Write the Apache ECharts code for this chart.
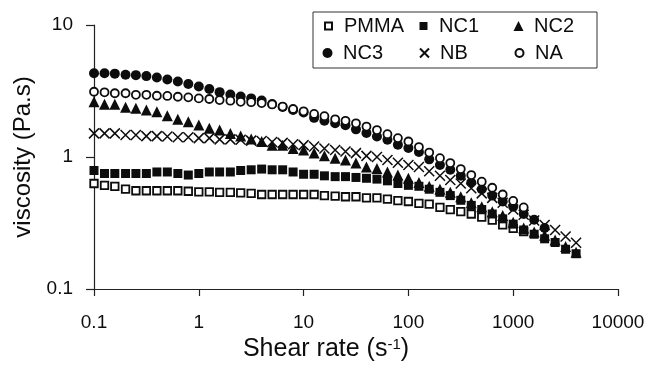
<!DOCTYPE html>
<html>
<head>
<meta charset="utf-8">
<script src="https://cdn.jsdelivr.net/npm/echarts@6/dist/echarts.min.js"></script>
<style>
  html, body {margin: 0; padding: 0; background: #fff;}
  #main {width: 652px; height: 368px;}
</style>
</head>
<body>
<div id="main"></div>
<script>
// shear rate (1/s), 10 points per decade
const shearRate = [
  0.1, 0.126, 0.158, 0.2, 0.251, 0.316, 0.398, 0.501, 0.631, 0.794,
  1, 1.26, 1.58, 2, 2.51, 3.16, 3.98, 5.01, 6.31, 7.94,
  10, 12.6, 15.8, 20, 25.1, 31.6, 39.8, 50.1, 63.1, 79.4,
  100, 126, 158, 200, 251, 316, 398, 501, 631, 794,
  1000, 1259, 1585, 1995, 2512, 3162, 3981
];

// viscosity (Pa.s)
const pmma = [
  0.63, 0.61, 0.60, 0.57, 0.555, 0.555, 0.555, 0.555, 0.555, 0.55,
  0.545, 0.545, 0.54, 0.54, 0.535, 0.53, 0.52, 0.52, 0.52, 0.52,
  0.52, 0.52, 0.51, 0.505, 0.50, 0.50, 0.49, 0.49, 0.48, 0.467,
  0.46, 0.446, 0.44, 0.416, 0.40, 0.386, 0.37, 0.35, 0.333, 0.306,
  0.288, 0.272
];
const nc1 = [
  0.79, 0.75, 0.75, 0.75, 0.75, 0.75, 0.77, 0.77, 0.75, 0.73,
  0.75, 0.77, 0.77, 0.77, 0.79, 0.80, 0.81, 0.80, 0.80, 0.77,
  0.74, 0.74, 0.72, 0.71, 0.71, 0.70, 0.69, 0.68, 0.66, 0.63,
  0.61, 0.60, 0.57, 0.54, 0.51, 0.47, 0.43, 0.40, 0.37, 0.34,
  0.31, 0.28, 0.26, 0.24, 0.225, 0.20, 0.185
];
const nc2 = [
  2.62, 2.51, 2.51, 2.38, 2.34, 2.27, 2.20, 2.05, 1.93, 1.85,
  1.75, 1.65, 1.60, 1.51, 1.44, 1.37, 1.31, 1.23, 1.23, 1.16,
  1.13, 1.07, 1.02, 0.98, 0.95, 0.90, 0.84, 0.82, 0.77, 0.73,
  0.69, 0.64, 0.60, 0.57, 0.54, 0.50, 0.45, 0.42, 0.385, 0.36,
  0.32, 0.29, 0.27, 0.255, 0.235, 0.21, 0.19
];
const nc3 = [
  4.31, 4.31, 4.28, 4.20, 4.17, 4.10, 4.00, 3.87, 3.73, 3.57,
  3.42, 3.27, 3.10, 2.97, 2.87, 2.78, 2.68, 2.52, 2.39, 2.27,
  2.17, 1.98, 1.88, 1.80, 1.74, 1.62, 1.52, 1.43, 1.35, 1.24,
  1.17, 1.09, 0.96, 0.87, 0.80, 0.72, 0.64, 0.57, 0.51, 0.46,
  0.42, 0.37, 0.335, 0.29
];
const nb = [
  1.51, 1.51, 1.51, 1.47, 1.47, 1.44, 1.44, 1.43, 1.41, 1.41,
  1.39, 1.39, 1.36, 1.36, 1.35, 1.33, 1.32, 1.30, 1.28, 1.25,
  1.23, 1.20, 1.16, 1.13, 1.10, 1.07, 1.02, 1.00, 0.95, 0.905,
  0.87, 0.84, 0.78, 0.72, 0.67, 0.63, 0.58, 0.53, 0.49, 0.45,
  0.40, 0.365, 0.33, 0.305, 0.28, 0.25, 0.224
];
const na = [
  3.12, 3.09, 3.04, 3.04, 2.96, 2.96, 2.91, 2.90, 2.86, 2.83,
  2.78, 2.75, 2.70, 2.67, 2.62, 2.60, 2.56, 2.50, 2.41, 2.31,
  2.22, 2.12, 2.04, 1.93, 1.88, 1.80, 1.70, 1.60, 1.49, 1.39,
  1.31, 1.19, 1.08, 0.98, 0.90, 0.81, 0.73, 0.65, 0.585, 0.52,
  0.465, 0.415
];

const xTicks = [0.1, 1, 10, 100, 1000, 10000];
const xTickLabels = ['0.1', '1', '10', '100', '1000', '10000'];
const yTicks = [0.1, 1, 10];
const yTickLabels = ['0.1', '1', '10'];

const ink = '#0d0d0d';
const font = 'Liberation Sans, Arial, sans-serif';
const crossPath = 'path://M0,0L10,10M10,0L0,10';

const pick = (ticks, labels) => v => {
  let best = 0;
  ticks.forEach((t, i) => {
    if (Math.abs(Math.log10(t) - Math.log10(v)) < Math.abs(Math.log10(ticks[best]) - Math.log10(v))) best = i;
  });
  return labels[best];
};

const pairs = values => values.map((v, i) => [shearRate[i], v]);

const seriesList = [
  {name: 'PMMA', values: pmma, symbol: 'rect', size: 7.5, legendSize: 7, style: {color: '#fff', borderColor: ink, borderWidth: 1.8}},
  {name: 'NC1', values: nc1, symbol: 'rect', size: 9, legendSize: 8, style: {color: ink}},
  {name: 'NC2', values: nc2, symbol: 'triangle', size: 11, legendSize: 10, style: {color: ink}},
  {name: 'NC3', values: nc3, symbol: 'circle', size: 10, legendSize: 10, style: {color: ink}},
  {name: 'NB', values: nb, symbol: crossPath, size: 10, legendSize: 9, style: {color: 'transparent', borderColor: ink, borderWidth: 1.5}},
  {name: 'NA', values: na, symbol: 'circle', size: 8, legendSize: 8, style: {color: '#fff', borderColor: ink, borderWidth: 1.8}}
];

// legend slots: column x of the icon's left edge, row y of the item top
const legendCols = [323, 419, 514];
const legendRows = [16, 43];

const chart = echarts.init(document.getElementById('main'));
chart.setOption({
  animation: false,
  backgroundColor: '#fff',
  textStyle: {fontFamily: font},
  grid: {left: 94, right: 34, top: 25, bottom: 79},
  graphic: [{
    type: 'rect',
    shape: {x: 313, y: 12, width: 284, height: 56},
    style: {fill: '#fff', stroke: '#333', lineWidth: 1},
    z: 5
  }],
  legend: seriesList.map((s, i) => ({
    data: [s.name],
    left: legendCols[i % 3] + (9 - s.legendSize) / 2,
    top: legendRows[Math.floor(i / 3)],
    padding: 0,
    itemWidth: s.legendSize,
    itemHeight: s.legendSize,
    textStyle: {fontSize: 20, color: ink, fontFamily: font, lineHeight: 20, padding: [0, 0, 0, 6 + (9 - s.legendSize) / 2]},
    z: 10
  })),
  xAxis: {
    type: 'log',
    logBase: 10,
    min: 0.1,
    max: 10000,
    name: 'Shear rate (s{sup|-1})',
    nameLocation: 'middle',
    nameGap: 48,
    nameTextStyle: {
      fontSize: 25, color: ink, fontFamily: font, padding: [0, 60, 0, 0],
      rich: {sup: {fontSize: 15, color: ink, fontFamily: font, verticalAlign: 'top', lineHeight: 13}}
    },
    axisLine: {lineStyle: {color: '#222', width: 1.2}},
    axisTick: {inside: false, length: 7, lineStyle: {color: '#222', width: 1.2}},
    minorTick: {show: false},
    splitLine: {show: false},
    axisLabel: {fontSize: 19, color: ink, margin: 24, formatter: pick(xTicks, xTickLabels)}
  },
  yAxis: {
    type: 'log',
    logBase: 10,
    min: 0.1,
    max: 10,
    name: 'viscosity (Pa.s)',
    nameLocation: 'middle',
    nameGap: 52,
    nameTextStyle: {fontSize: 24, color: ink, fontFamily: font},
    axisLine: {show: true, lineStyle: {color: '#222', width: 1.2}},
    axisTick: {show: true, inside: false, length: 8, lineStyle: {color: '#222', width: 1.2}},
    minorTick: {show: false},
    splitLine: {show: false},
    axisLabel: {fontSize: 19, color: ink, margin: 21, formatter: pick(yTicks, yTickLabels)}
  },
  series: seriesList.map(s => ({
    name: s.name,
    type: 'scatter',
    symbol: s.symbol,
    symbolSize: s.size,
    itemStyle: Object.assign({opacity: 1}, s.style),
    emphasis: {disabled: true},
    data: pairs(s.values)
  }))
});
</script>
</body>
</html>
